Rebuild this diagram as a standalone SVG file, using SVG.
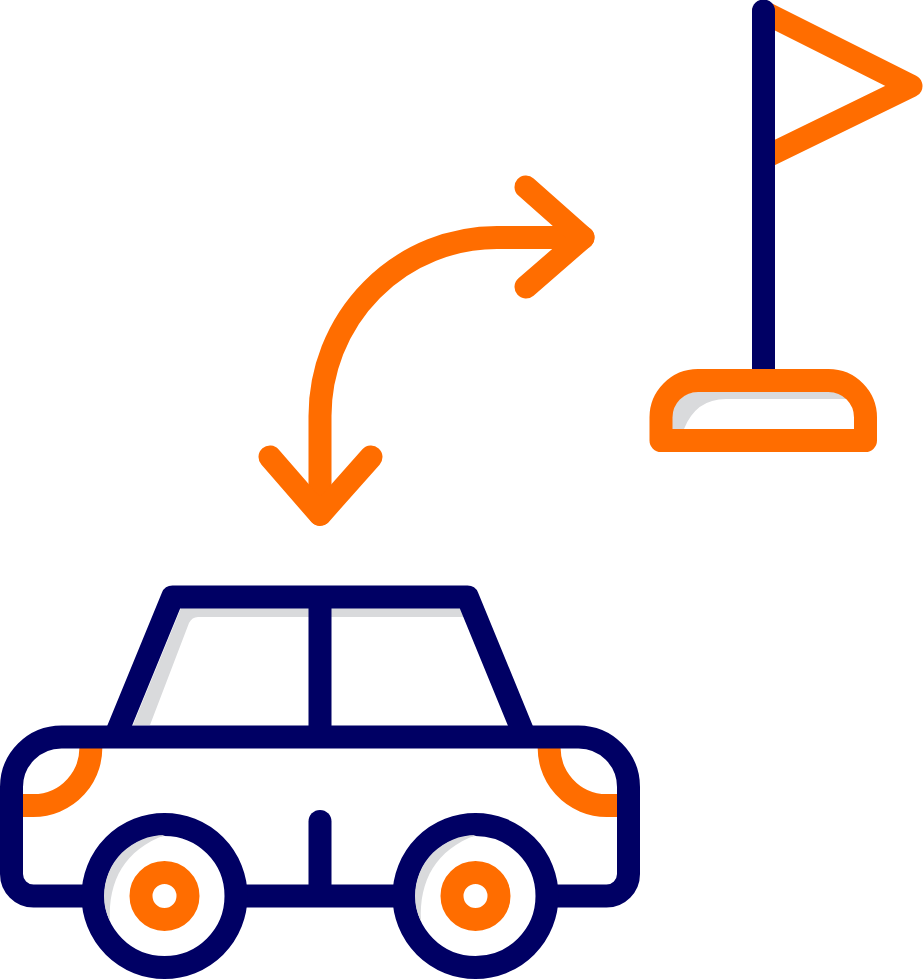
<svg xmlns="http://www.w3.org/2000/svg" width="923" height="980" viewBox="0 0 923 980">
<style>
.n{fill:none;stroke:#000064;stroke-width:23;stroke-linecap:round;stroke-linejoin:round}
.o{fill:none;stroke:#ff6d00;stroke-width:23;stroke-linecap:round;stroke-linejoin:round}
.b{stroke-linecap:butt}
.g{fill:#d9dadc;stroke:none}
.w{fill:#fff;stroke:#000064;stroke-width:23}
</style>
<rect width="923" height="980" fill="#fff"/>
<g id="connectors">
<path class="o" d="M320 514V416A177 178.500 0 0 1 497 237.500H583"/>
<path class="o" d="M270 457L320 514.500L371 457"/>
<path class="o" d="M526 187L583 237.500L526 287"/>
</g>
<g id="flag">
<path class="o" d="M763.500 12L911 86L763.500 158"/>
<path class="n" d="M763.500 11V380"/>
<path class="g" d="M672 429V417A25 25 0 0 1 697 392H832Q842 392 847 399H726Q696 399 684 429Z"/>
<path class="o" d="M661 440.500V418A37 37 0 0 1 698 380.500H828.500A37 37 0 0 1 865.500 418V440.500Z"/>
</g>
<g id="car">
<path class="g" d="M181 608H309V617H198Q192 617 189 623L150 725H133Z"/>
<path class="g" d="M331 608H462L466 617H331Z"/>
<path class="o b" d="M90.500 742A57.500 57.500 0 0 1 33 805.500H20"/>
<path class="o b" d="M549.500 742A57.500 57.500 0 0 0 607 805.500H620"/>
<path class="n b" d="M115 737L172.500 597H467.500L525 737"/>
<path class="n b" d="M320 597V737"/>
<path class="n" d="M61.500 737H578.500A50 50 0 0 1 628.500 787V874A22 22 0 0 1 606.500 896H33.500A22 22 0 0 1 11.500 874V787A50 50 0 0 1 61.500 737Z"/>
<path class="n" d="M320 821.500V890"/>
<g id="wheel-left">
<circle cx="164.500" cy="896" r="71.500" class="w"/>
<path class="g" d="M165 835A61 61 0 0 0 104 896Q104 910 110 921C108 880 125 850 165 835Z"/>
<circle cx="164.500" cy="896" r="23.500" class="o"/>
</g>
<g id="wheel-right">
<circle cx="475.500" cy="896" r="71.500" class="w"/>
<path class="g" d="M476 835A61 61 0 0 0 415 896Q415 910 421 921C419 880 436 850 476 835Z"/>
<circle cx="475.500" cy="896" r="23.500" class="o"/>
</g>
</g>
</svg>
